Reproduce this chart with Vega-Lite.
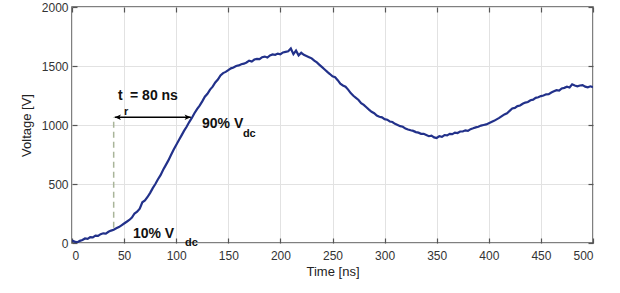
{
  "$schema": "https://vega.github.io/schema/vega-lite/v6.json",
  "width": 521,
  "height": 236,
  "autosize": {"type": "none"},
  "padding": {"left": 72, "top": 7, "right": 27, "bottom": 50},
  "background": "white",
  "config": {
    "view": {"stroke": "#555", "strokeWidth": 1.5},
    "font": "Liberation Sans",
    "axis": {
      "labelFont": "Liberation Sans", "titleFont": "Liberation Sans",
      "labelFontSize": 12, "titleFontSize": 13, "titleFontWeight": "normal",
      "labelColor": "#333", "titleColor": "#222",
      "gridColor": "#e2e2e2", "gridWidth": 1,
      "tickColor": "#555", "domain": false, "tickSize": -5, "tickWidth": 1.2, "format": "d"
    }
  },
  "datasets": {
    "wave": [
      {"t":0,"v":20},{"t":2.5,"v":12},{"t":5,"v":5},{"t":7.5,"v":18},{"t":10,"v":25},{"t":12.5,"v":38},{"t":15,"v":35},{"t":17.5,"v":50},{"t":20,"v":48},{"t":22.5,"v":62},
      {"t":25,"v":60},{"t":27.5,"v":75},{"t":30,"v":82},{"t":32.5,"v":80},{"t":35,"v":95},{"t":37.5,"v":105},{"t":40,"v":112},{"t":42.5,"v":125},{"t":45,"v":135},{"t":47.5,"v":150},
      {"t":50,"v":165},{"t":52.5,"v":180},{"t":55,"v":195},{"t":57.5,"v":215},{"t":60,"v":250},{"t":62.5,"v":265},{"t":65,"v":290},{"t":67.5,"v":345},{"t":70,"v":360},{"t":72.5,"v":390},
      {"t":75,"v":425},{"t":77.5,"v":465},{"t":80,"v":500},{"t":82.5,"v":540},{"t":85,"v":575},{"t":87.5,"v":620},{"t":90,"v":660},{"t":92.5,"v":700},{"t":95,"v":745},{"t":97.5,"v":790},
      {"t":100,"v":830},{"t":102.5,"v":870},{"t":105,"v":910},{"t":107.5,"v":950},{"t":110,"v":985},{"t":112.5,"v":1025},{"t":115,"v":1060},{"t":117.5,"v":1100},{"t":120,"v":1135},{"t":122.5,"v":1165},
      {"t":125,"v":1200},{"t":127.5,"v":1240},{"t":130,"v":1265},{"t":132.5,"v":1300},{"t":135,"v":1325},{"t":137.5,"v":1360},{"t":140,"v":1385},{"t":142.5,"v":1420},{"t":145,"v":1440},{"t":147.5,"v":1450},
      {"t":150,"v":1465},{"t":152.5,"v":1480},{"t":155,"v":1488},{"t":157.5,"v":1500},{"t":160,"v":1505},{"t":162.5,"v":1515},{"t":165,"v":1520},{"t":167.5,"v":1530},{"t":170,"v":1545},{"t":172.5,"v":1538},
      {"t":175,"v":1555},{"t":177.5,"v":1560},{"t":180,"v":1558},{"t":182.5,"v":1575},{"t":185,"v":1580},{"t":187.5,"v":1572},{"t":190,"v":1590},{"t":192.5,"v":1598},{"t":195,"v":1595},{"t":197.5,"v":1605},
      {"t":200,"v":1600},{"t":202.5,"v":1615},{"t":205,"v":1620},{"t":207.5,"v":1625},{"t":210,"v":1648},{"t":212.5,"v":1600},{"t":215,"v":1630},{"t":217.5,"v":1590},{"t":220,"v":1612},{"t":222.5,"v":1595},
      {"t":225,"v":1585},{"t":227.5,"v":1575},{"t":230,"v":1565},{"t":232.5,"v":1545},{"t":235,"v":1530},{"t":237.5,"v":1510},{"t":240,"v":1490},{"t":242.5,"v":1470},{"t":245,"v":1450},{"t":247.5,"v":1432},
      {"t":250,"v":1412},{"t":252.5,"v":1405},{"t":255,"v":1380},{"t":257.5,"v":1350},{"t":260,"v":1335},{"t":262.5,"v":1325},{"t":265,"v":1300},{"t":267.5,"v":1270},{"t":270,"v":1248},{"t":272.5,"v":1230},
      {"t":275,"v":1212},{"t":277.5,"v":1185},{"t":280,"v":1170},{"t":282.5,"v":1150},{"t":285,"v":1130},{"t":287.5,"v":1112},{"t":290,"v":1100},{"t":292.5,"v":1080},{"t":295,"v":1070},{"t":297.5,"v":1065},
      {"t":300,"v":1050},{"t":302.5,"v":1045},{"t":305,"v":1030},{"t":307.5,"v":1025},{"t":310,"v":1010},{"t":312.5,"v":1000},{"t":315,"v":990},{"t":317.5,"v":985},{"t":320,"v":970},{"t":322.5,"v":962},
      {"t":325,"v":955},{"t":327.5,"v":950},{"t":330,"v":940},{"t":332.5,"v":935},{"t":335,"v":925},{"t":337.5,"v":925},{"t":340,"v":915},{"t":342.5,"v":905},{"t":345,"v":910},{"t":347.5,"v":895},
      {"t":350,"v":890},{"t":352.5,"v":905},{"t":355,"v":900},{"t":357.5,"v":915},{"t":360,"v":912},{"t":362.5,"v":925},{"t":365,"v":922},{"t":367.5,"v":935},{"t":370,"v":932},{"t":372.5,"v":945},
      {"t":375,"v":945},{"t":377.5,"v":955},{"t":380,"v":950},{"t":382.5,"v":965},{"t":385,"v":972},{"t":387.5,"v":980},{"t":390,"v":985},{"t":392.5,"v":995},{"t":395,"v":1000},{"t":397.5,"v":1005},
      {"t":400,"v":1015},{"t":402.5,"v":1025},{"t":405,"v":1035},{"t":407.5,"v":1048},{"t":410,"v":1060},{"t":412.5,"v":1075},{"t":415,"v":1090},{"t":417.5,"v":1100},{"t":420,"v":1120},{"t":422.5,"v":1140},
      {"t":425,"v":1145},{"t":427.5,"v":1160},{"t":430,"v":1165},{"t":432.5,"v":1180},{"t":435,"v":1190},{"t":437.5,"v":1195},{"t":440,"v":1210},{"t":442.5,"v":1215},{"t":445,"v":1230},{"t":447.5,"v":1235},
      {"t":450,"v":1245},{"t":452.5,"v":1250},{"t":455,"v":1260},{"t":457.5,"v":1262},{"t":460,"v":1275},{"t":462.5,"v":1285},{"t":465,"v":1295},{"t":467.5,"v":1292},{"t":470,"v":1310},{"t":472.5,"v":1315},
      {"t":475,"v":1325},{"t":477.5,"v":1318},{"t":480,"v":1345},{"t":482.5,"v":1335},{"t":485,"v":1328},{"t":487.5,"v":1335},{"t":490,"v":1338},{"t":492.5,"v":1325},{"t":495,"v":1320},{"t":497.5,"v":1328},
      {"t":500,"v":1320}
    ],
    "dash": [{"t":40,"v":130},{"t":40,"v":1065}],
    "arrow": [{"t1":41,"t2":114,"v":1065}],
    "heads": [{"t":41,"v":1065,"s":"M0,0L1.6,-0.7L1.2,0L1.6,0.7Z"},{"t":114,"v":1065,"s":"M0,0L-1.6,-0.7L-1.2,0L-1.6,0.7Z"}],
    "big": [
      {"t":44.1,"v":1212,"label":"t"},
      {"t":55.7,"v":1212,"label":"= 80 ns"},
      {"t":124.8,"v":975,"label":"90% V"},
      {"t":58.5,"v":42,"label":"10% V"}
    ],
    "small": [
      {"t":50,"v":1085,"label":"r"},
      {"t":164,"v":898,"label":"dc"},
      {"t":108.4,"v":-25,"label":"dc"}
    ]
  },
  "layer": [
    {
      "data": {"name": "wave"},
      "mark": {"type": "line", "color": "#22318a", "strokeWidth": 2.2, "clip": true},
      "encoding": {
        "x": {"field": "t", "type": "quantitative", "scale": {"domain": [0, 500], "nice": false},
          "axis": {"title": "Time [ns]", "values": [0,50,100,150,200,250,300,350,400,450,500], "labelPadding": 12, "titlePadding": 4}},
        "y": {"field": "v", "type": "quantitative", "scale": {"domain": [0, 2000], "nice": false},
          "axis": {"title": "Voltage [V]", "values": [0,500,1000,1500,2000], "labelPadding": 9, "titlePadding": 8}}
      }
    },
    {
      "data": {"name": "wave"},
      "mark": {"type": "line", "opacity": 0},
      "encoding": {
        "x": {"field": "t", "type": "quantitative", "axis": {"orient": "top", "labels": false, "title": null, "grid": false, "values": [0,50,100,150,200,250,300,350,400,450,500]}},
        "y": {"field": "v", "type": "quantitative", "axis": {"orient": "right", "labels": false, "title": null, "grid": false, "values": [0,500,1000,1500,2000]}}
      }
    },
    {
      "data": {"name": "dash"},
      "mark": {"type": "line", "color": "#a9b59a", "strokeWidth": 1.5, "strokeDash": [6, 4]},
      "encoding": {"x": {"field": "t", "type": "quantitative", "axis": null}, "y": {"field": "v", "type": "quantitative", "axis": null}}
    },
    {
      "data": {"name": "arrow"},
      "mark": {"type": "rule", "color": "black", "strokeWidth": 1.5},
      "encoding": {"x": {"field": "t1", "type": "quantitative", "axis": null}, "x2": {"field": "t2"}, "y": {"field": "v", "type": "quantitative", "axis": null}}
    },
    {
      "data": {"name": "heads"},
      "mark": {"type": "point", "filled": true, "color": "black", "size": 60, "opacity": 1},
      "encoding": {"x": {"field": "t", "type": "quantitative", "axis": null}, "y": {"field": "v", "type": "quantitative", "axis": null}, "shape": {"field": "s", "type": "nominal", "scale": null}}
    },
    {
      "data": {"name": "big"},
      "mark": {"type": "text", "align": "left", "baseline": "alphabetic", "fontSize": 14, "fontWeight": "bold", "font": "Liberation Sans", "color": "#111"},
      "encoding": {"x": {"field": "t", "type": "quantitative", "axis": null}, "y": {"field": "v", "type": "quantitative", "axis": null}, "text": {"field": "label"}}
    },
    {
      "data": {"name": "small"},
      "mark": {"type": "text", "align": "left", "baseline": "alphabetic", "fontSize": 11, "fontWeight": "bold", "font": "Liberation Sans", "color": "#111"},
      "encoding": {"x": {"field": "t", "type": "quantitative", "axis": null}, "y": {"field": "v", "type": "quantitative", "axis": null}, "text": {"field": "label"}}
    }
  ],
  "resolve": {"axis": {"x": "independent", "y": "independent"}}
}
